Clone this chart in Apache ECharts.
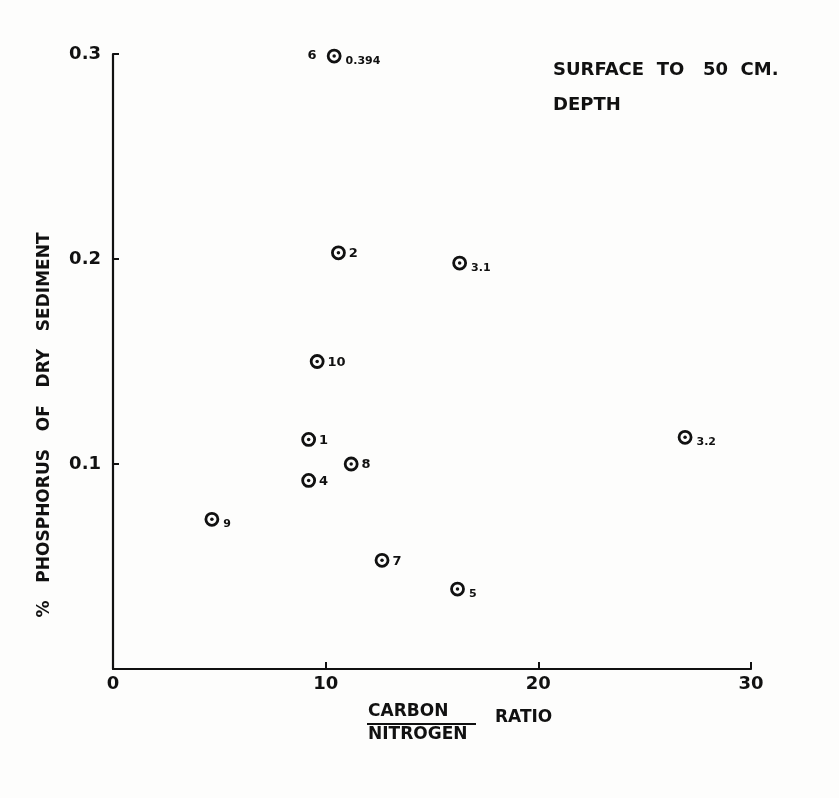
<!DOCTYPE html>
<html>
<head>
<meta charset="utf-8">
<script src="https://cdn.jsdelivr.net/npm/echarts@6/dist/echarts.min.js"></script>
<style>
html,body{margin:0;padding:0;background:#fdfdfc;}
#chart{width:839px;height:798px;}
</style>
</head>
<body>
<div id="chart"></div>
<script>
// Data
var stations = ['6', '2', '3.1', '10', '1', '3.2', '8', '4', '9', '7', '5'];
var carbonNitrogen = [10.4, 10.6, 16.3, 9.6, 9.2, 26.9, 11.2, 9.2, 4.65, 12.65, 16.2];
var phosphorus = [0.299, 0.203, 0.198, 0.150, 0.112, 0.113, 0.100, 0.092, 0.073, 0.053, 0.039];
var offScaleValues = { '6': '0.394' };
var xTicks = [0, 10, 20, 30];
var yTicks = [0, 0.1, 0.2, 0.3];

var subscripted = { '3.1': 1, '3.2': 1, '9': 1, '5': 1 };
var FONT = '"DejaVu Sans", "Liberation Sans", sans-serif';

var ringData = stations.map(function (s, i) {
  var txt = offScaleValues[s] ? offScaleValues[s] : s;
  var sub = subscripted[s] || offScaleValues[s];
  return {
    value: [carbonNitrogen[i], phosphorus[i]],
    name: s,
    label: {
      formatter: txt,
      fontSize: sub ? 11 : 13,
      offset: sub ? [-1, 5] : [-2, 1]
    }
  };
});
var dotData = stations.map(function (s, i) {
  return {
    value: [carbonNitrogen[i], phosphorus[i]],
    name: s,
    label: { show: !!offScaleValues[s], formatter: s }
  };
});

var chart = echarts.init(document.getElementById('chart'));
chart.setOption({
  backgroundColor: '#fdfdfc',
  animation: false,
  grid: { left: 113, right: 88, top: 54, bottom: 129, containLabel: false },
  xAxis: {
    type: 'value', min: 0, max: 30, interval: 10,
    axisLine: { show: true, lineStyle: { color: '#111', width: 2.2 } },
    axisTick: { show: true, inside: true, length: 7, lineStyle: { color: '#111', width: 2 } },
    splitLine: { show: false },
    axisLabel: {
      color: '#111', fontFamily: FONT, fontWeight: 'bold', fontSize: 18, margin: 6,
      formatter: function (v) { return xTicks.indexOf(v) >= 0 ? String(v) : ''; }
    }
  },
  yAxis: {
    type: 'value', min: 0, max: 0.3, interval: 0.1,
    axisLine: { show: true, lineStyle: { color: '#111', width: 2.2 } },
    axisTick: { show: true, inside: true, length: 6, lineStyle: { color: '#111', width: 2 } },
    splitLine: { show: false },
    axisLabel: {
      color: '#111', fontFamily: FONT, fontWeight: 'bold', fontSize: 18, margin: 12,
      formatter: function (v) {
        var r = Math.round(v * 10) / 10;
        if (r === 0) return '';
        return yTicks.indexOf(r) >= 0 ? r.toFixed(1) : '';
      }
    }
  },
  series: [
    {
      type: 'scatter',
      data: ringData,
      symbol: 'circle',
      symbolSize: 12,
      itemStyle: { color: '#fdfdfc', borderColor: '#111', borderWidth: 2.8, opacity: 1 },
      label: {
        show: true, position: 'right', color: '#111',
        fontFamily: FONT, fontWeight: 'bold'
      },
      z: 2
    },
    {
      type: 'scatter',
      data: dotData,
      symbol: 'circle',
      symbolSize: 3.5,
      itemStyle: { color: '#111', opacity: 1 },
      label: {
        position: 'left', distance: 16, color: '#111',
        fontFamily: FONT, fontWeight: 'bold', fontSize: 13
      },
      z: 3
    }
  ],
  graphic: [
    { type: 'text', left: 553, top: 61, style: { text: 'SURFACE  TO   50  CM.', fill: '#111', font: 'bold 18px ' + FONT } },
    { type: 'text', left: 553, top: 96, style: { text: 'DEPTH', fill: '#111', font: 'bold 18px ' + FONT } },
    {
      type: 'text', x: 45, y: 425, rotation: Math.PI / 2,
      style: { text: '%   PHOSPHORUS   OF   DRY   SEDIMENT', fill: '#111', font: 'bold 17px ' + FONT, align: 'center', verticalAlign: 'middle' }
    },
    { type: 'text', x: 368, y: 712, style: { text: 'CARBON', fill: '#111', font: 'bold 17px ' + FONT, align: 'left', verticalAlign: 'middle' } },
    { type: 'line', shape: { x1: 367, y1: 724, x2: 476, y2: 724 }, style: { stroke: '#111', lineWidth: 2 } },
    { type: 'text', x: 368, y: 735, style: { text: 'NITROGEN', fill: '#111', font: 'bold 17px ' + FONT, align: 'left', verticalAlign: 'middle' } },
    { type: 'text', x: 495, y: 718, style: { text: 'RATIO', fill: '#111', font: 'bold 17px ' + FONT, align: 'left', verticalAlign: 'middle' } }
  ]
});
</script>
</body>
</html>
